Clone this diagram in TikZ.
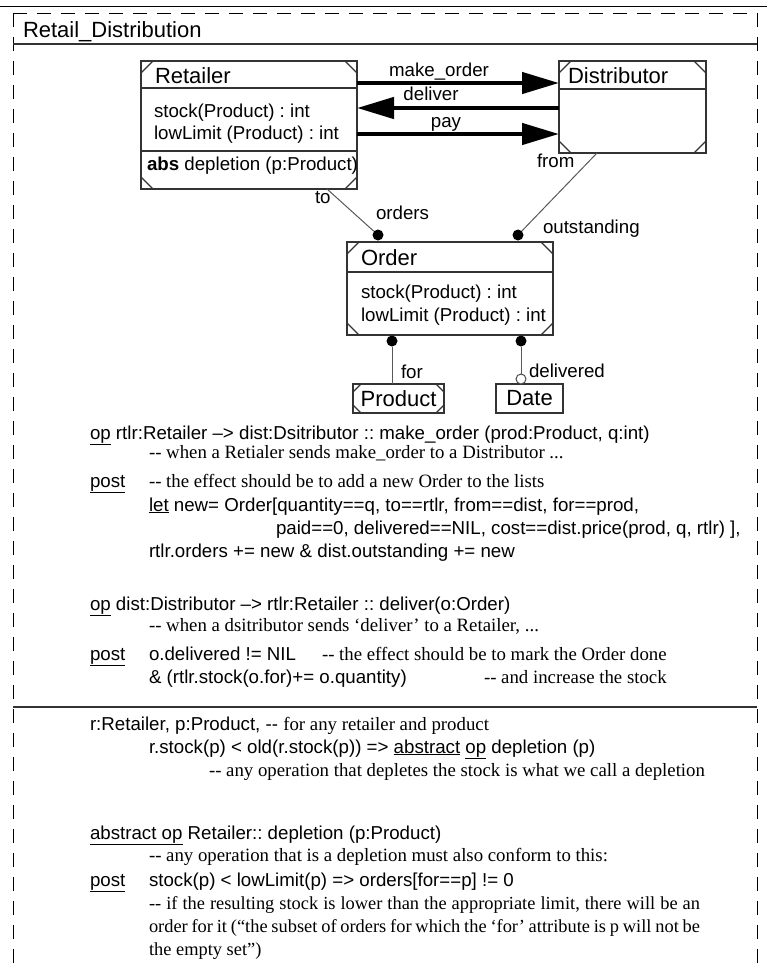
\documentclass[tikz,border=0pt]{standalone}
\usepackage{fontspec}
\setmainfont{Liberation Serif}
\setsansfont{Liberation Sans}
\usetikzlibrary{arrows.meta}
\newcommand{\sfs}{\frenchspacing\sffamily\fontsize{18.7bp}{23bp}\selectfont}
\newcommand{\sfl}{\frenchspacing\sffamily\fontsize{22bp}{26bp}\selectfont}
\newcommand{\rms}{\frenchspacing\rmfamily\fontsize{18.8bp}{23bp}\selectfont}
\newcommand{\rmp}{\frenchspacing\rmfamily\fontsize{18.4bp}{23bp}\selectfont}
\newcommand{\und}[1]{\underline{#1}}
\newcommand{\dd}{-{}-}
\newcommand{\cticks}[2]{%
  \draw[box] ([yshift=-#2]#1.north west) -- ([xshift=#2]#1.north west)
             ([xshift=-#2]#1.north east) -- ([yshift=-#2]#1.north east)
             ([yshift=#2]#1.south west) -- ([xshift=#2]#1.south west)
             ([xshift=-#2]#1.south east) -- ([yshift=#2]#1.south east);}
\begin{document}
\begin{tikzpicture}[x=1bp,y=-1bp,
  box/.style={draw=black!80, line width=1.1bp},
  cls/.style={box, fill=white, inner sep=0pt, outer sep=0pt},
  conn/.style={draw=black!65, line width=1bp},
  msg/.style={draw=black, line width=4.5bp, -{Triangle[length=37bp,width=21bp]}},
  frm/.style={draw=black, line width=1bp, dash pattern=on 14bp off 10bp},
  sol/.style={draw=black!80, line width=1.1bp},
  tx/.style={anchor=base west, inner sep=0pt, outer sep=0pt, font=\sfs},
  tc/.style={anchor=base, inner sep=0pt, outer sep=0pt, font=\sfs},
  tn/.style={tx, font=\sfl},
  cmt/.style={tx, font=\rms},
  par/.style={tx, font=\rmp},
  dot/.style={circle, fill=black, inner sep=0pt, minimum size=11bp},
  odot/.style={circle, draw=black!70, fill=white, line width=1bp, inner sep=0pt, minimum size=10bp}]
\useasboundingbox (0,0) rectangle (767,969);
\fill[white] (0,0) rectangle (767,969);
% ---------- frame
\draw[line width=1bp] (0,6) -- (767,6);
\draw[frm] (13,13) -- (757,13);
\draw[frm] (13,13) -- (13,969);
\draw[frm] (757,13) -- (757,969);
\draw[sol] (13,44) -- (757,44);
\draw[sol] (13,707) -- (757,707);
\node[tn] (title) at (23,37) {Retail\_Distribution};
% ---------- Retailer
\node[cls, minimum width=216bp, minimum height=128bp] (ret) at (249,125) {};
\draw[box] ([yshift=-27bp]ret.north west) -- ([yshift=-27bp]ret.north east);
\draw[box] ([yshift=-90bp]ret.north west) -- ([yshift=-90bp]ret.north east);
\cticks{ret}{12bp}
\node[tn] (retn) at (155,83) {Retailer};
\node[tx] (reta1) at (154,117) {stock(Product) : int};
\node[tx] (reta2) at (154,139) {lowLimit (Product) : int};
\node[tx] (reto) at (147,170) {\textbf{abs} depletion (p:Product)};
% ---------- Distributor
\node[cls, minimum width=147bp, minimum height=92bp] (dist) at (632.5,107) {};
\draw[box] ([yshift=-28bp]dist.north west) -- ([yshift=-28bp]dist.north east);
\cticks{dist}{12bp}
\node[tn] (distn) at (568,83) {Distributor};
% ---------- messages
\coordinate (ya) at (0,83);
\coordinate (yb) at (0,108);
\coordinate (yc) at (0,134);
\draw[msg] (ret.east |- ya) -- (dist.west |- ya);
\draw[msg] (dist.west |- yb) -- (ret.east |- yb);
\draw[msg] (ret.east |- yc) -- (dist.west |- yc);
\node[tc] (lmo) at (439,76) {make\_order};
\node[tc] (ldl) at (431,100) {deliver};
\node[tc] (lpy) at (446,127) {pay};
% ---------- Order
\node[cls, minimum width=206bp, minimum height=93bp] (ord) at (450,288.5) {};
\draw[box] ([yshift=-30bp]ord.north west) -- ([yshift=-30bp]ord.north east);
\cticks{ord}{12bp}
\node[tn] (ordn) at (361,265) {Order};
\node[tx] (orda1) at (361,298) {stock(Product) : int};
\node[tx] (orda2) at (361,321) {lowLimit (Product) : int};
% ---------- Product, Date
\node[cls, minimum width=91bp, minimum height=29bp, font=\sfl] (prod) at (398.5,398.5) {Product};
\cticks{prod}{8bp}
\node[cls, minimum width=67bp, minimum height=29bp, font=\sfl] (date) at (529.5,398.5) {Date};
% ---------- associations
\node[dot] (d1) at (378,235) {};
\node[dot] (d2) at (518,235) {};
\node[dot] (d3) at (392,341) {};
\node[dot] (d4) at (521,341) {};
\node[odot] (oc) at (521,379) {};
\coordinate (rA) at (327,189);
\coordinate (dA) at (597,153);
\draw[conn] (rA) -- (d1);
\draw[conn] (dA) -- (d2);
\draw[conn] (d3) -- (d3 |- prod.north);
\draw[conn] (d4) -- (oc);
\node[tx] (lto) at (315,203) {to};
\node[tx] (lor) at (376,219) {orders};
\node[tx] (lfr) at (537,167) {from};
\node[tx] (lou) at (543,233) {outstanding};
\node[tx] (lfo) at (401,378) {for};
\node[tx] (lde) at (529,377) {delivered};
% ---------- text, upper part
\node[tx] (op1) at (90,439) {\und{op} rtlr:Retailer –> dist:Dsitributor :: make\_order (prod:Product, q:int)};
\node[cmt] (c1) at (149,458) {\dd{} when a Retialer sends make\_order to a Distributor ...};
\node[tx] (p1) at (90,487) {\und{post}};
\node[cmt] (c2) at (149,487) {\dd{} the effect should be to add a new Order to the lists};
\node[tx] (l1) at (149,511) {\und{let} new= Order[quantity==q, to==rtlr, from==dist, for==prod,};
\node[tx] (l2) at (276,534) {paid==0, delivered==NIL, cost==dist.price(prod, q, rtlr) ],};
\node[tx] (l3) at (149,557) {rtlr.orders += new \& dist.outstanding += new};
\node[tx] (op2) at (90,610) {\und{op} dist:Distributor –> rtlr:Retailer :: deliver(o:Order)};
\node[cmt] (c3) at (149,631) {\dd{} when a dsitributor sends ‘deliver’ to a Retailer, ...};
\node[tx] (p2) at (90,660) {\und{post}};
\node[tx] (l4) at (149,660) {o.delivered != NIL};
\node[cmt] (c4) at (322,660) {\dd{} the effect should be to mark the Order done};
\node[tx] (l5) at (149,683) {\& (rtlr.stock(o.for)+= o.quantity)};
\node[cmt] (c5) at (484,683) {\dd{} and increase the stock};
% ---------- text, lower part
\node[tx] (l6) at (90,730) {r:Retailer, p:Product, \dd{} {\rms for any retailer and product}};
\node[tx] (l7) at (149,753) {r.stock(p) < old(r.stock(p)) => \und{abstract} \und{op} depletion (p)};
\node[cmt] (c6) at (209,776) {\dd{} any operation that depletes the stock is what we call a depletion};
\node[tx] (l8) at (90,839) {\und{abstract op} Retailer:: depletion (p:Product)};
\node[cmt] (c7) at (149,861) {\dd{} any operation that is a depletion must also conform to this:};
\node[tx] (p3) at (90,886) {\und{post}};
\node[tx] (l9) at (149,886) {stock(p) < lowLimit(p) => orders[for==p] != 0};
\node[par] (c8) at (149,909) {\makebox[551bp][s]{\dd{} if the resulting stock is lower than the appropriate limit, there will be an}};
\node[par] (c9) at (149,932) {\makebox[551bp][s]{order for it (“the subset of orders for which the ‘for’ attribute is p will not be}};
\node[par] (c10) at (149,955) {the empty set”)};
\end{tikzpicture}
\end{document}
